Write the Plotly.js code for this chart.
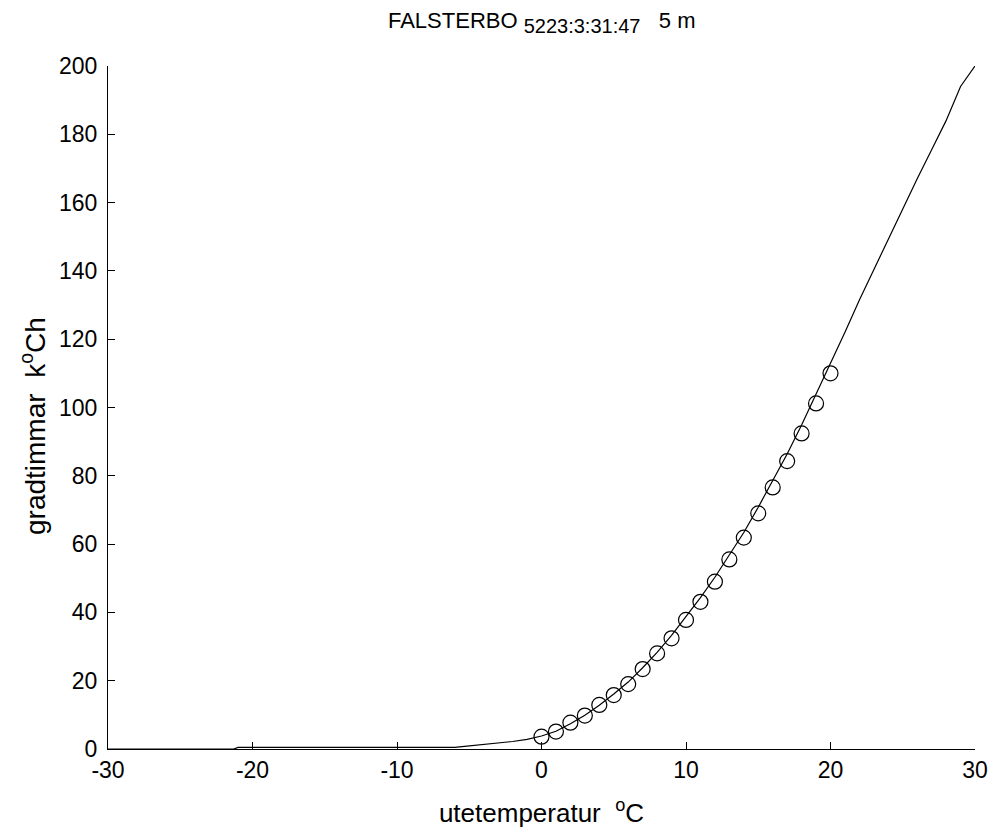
<!DOCTYPE html>
<html>
<head>
<meta charset="utf-8">
<script src="https://cdn.plot.ly/plotly-3.0.1.min.js"></script>
<style>html,body{margin:0;padding:0;background:#fff;}#chart{width:994px;height:829px;}</style>
</head>
<body>
<div id="chart"></div>
<script>
// Measured points (circles)
const obsTemp = [0,1,2,3,4,5,6,7,8,9,10,11,12,13,14,15,16,17,18,19,20];
const obsHours = [3.6,5.1,7.7,9.8,12.9,15.8,19.0,23.4,28.0,32.4,37.8,43.1,49.0,55.5,61.9,69.0,76.6,84.3,92.4,101.2,110.0];

// Continuous curve
const curveTemp = [-30,-25,-21.3,-21,-15,-10,-6,-5.5,-5,-4,-3,-2,-1,0,1,2,3,4,5,6,7,8,9,10,11,12,13,14,15,16,17,18,19,20,21,22,23,24,25,26,27,28,29,30];
const curveHours = [0,0,0,0.45,0.45,0.45,0.45,0.7,0.9,1.2,1.6,2.2,2.8,3.8,5.2,7.4,9.9,12.8,16.1,19.6,23.8,28.3,33.3,38.7,44.3,50.3,56.8,63.4,70.8,78.4,86.4,94.9,103.8,112.8,122,131.5,140.5,149.5,158.5,167,175.5,184,194,200];

// Tick labels
const xTickVals = [-30,-20,-10,0,10,20,30];
const xTickText = ['-30','-20','-10','0','10','20','30'];
const yTickVals = [0,20,40,60,80,100,120,140,160,180,200];
const yTickText = ['0','20','40','60','80','100','120','140','160','180','200'];

const titleText = 'FALSTERBO <sub><span style="font-size:20px">5223:3:31:47</span></sub>   5 m';
const xTitle = 'utetemperatur  <sup>o</sup>C';
const yTitle = 'gradtimmar  k<sup>o</sup>Ch';

const font = 'Arial, "Liberation Sans", sans-serif';

const traces = [
  {x: curveTemp, y: curveHours, type: 'scatter', mode: 'lines',
   line: {color: '#000', width: 1.2}, hoverinfo: 'skip'},
  {x: obsTemp, y: obsHours, type: 'scatter', mode: 'markers',
   marker: {symbol: 'circle-open', size: 15, color: '#000', line: {width: 1.2, color: '#000'}}}
];

const layout = {
  width: 994, height: 829,
  paper_bgcolor: '#fff', plot_bgcolor: '#fff',
  showlegend: false,
  margin: {l: 108, r: 19, t: 66, b: 80},
  font: {family: font, size: 23, color: '#000'},
  title: {text: titleText, x: 0.545, xanchor: 'center', y: 0.975, yanchor: 'middle', font: {family: font, size: 22, color: '#000'}},
  xaxis: {
    range: [-30, 30], tickvals: xTickVals, ticktext: xTickText, ticks: 'inside', ticklen: 7, tickcolor: '#000',
    showline: true, linecolor: '#000', linewidth: 1, showgrid: false, zeroline: false,
    tickfont: {family: font, size: 23, color: '#000'},
    title: {text: xTitle, font: {family: font, size: 26, color: '#000'}, standoff: 22}
  },
  yaxis: {
    range: [0, 200], tickvals: yTickVals, ticktext: yTickText, ticks: 'inside', ticklen: 7, tickcolor: '#000',
    ticklabelstandoff: 5,
    showline: true, linecolor: '#000', linewidth: 1, showgrid: false, zeroline: false,
    tickfont: {family: font, size: 23, color: '#000'}
  },
  annotations: [{
    text: yTitle, textangle: -90, showarrow: false,
    xref: 'paper', yref: 'paper', x: 0, y: 0.4729, xanchor: 'center', yanchor: 'middle', xshift: -75,
    font: {family: font, size: 28, color: '#000'}
  }]
};

Plotly.newPlot('chart', traces, layout, {displayModeBar: false, staticPlot: true});
</script>
</body>
</html>
